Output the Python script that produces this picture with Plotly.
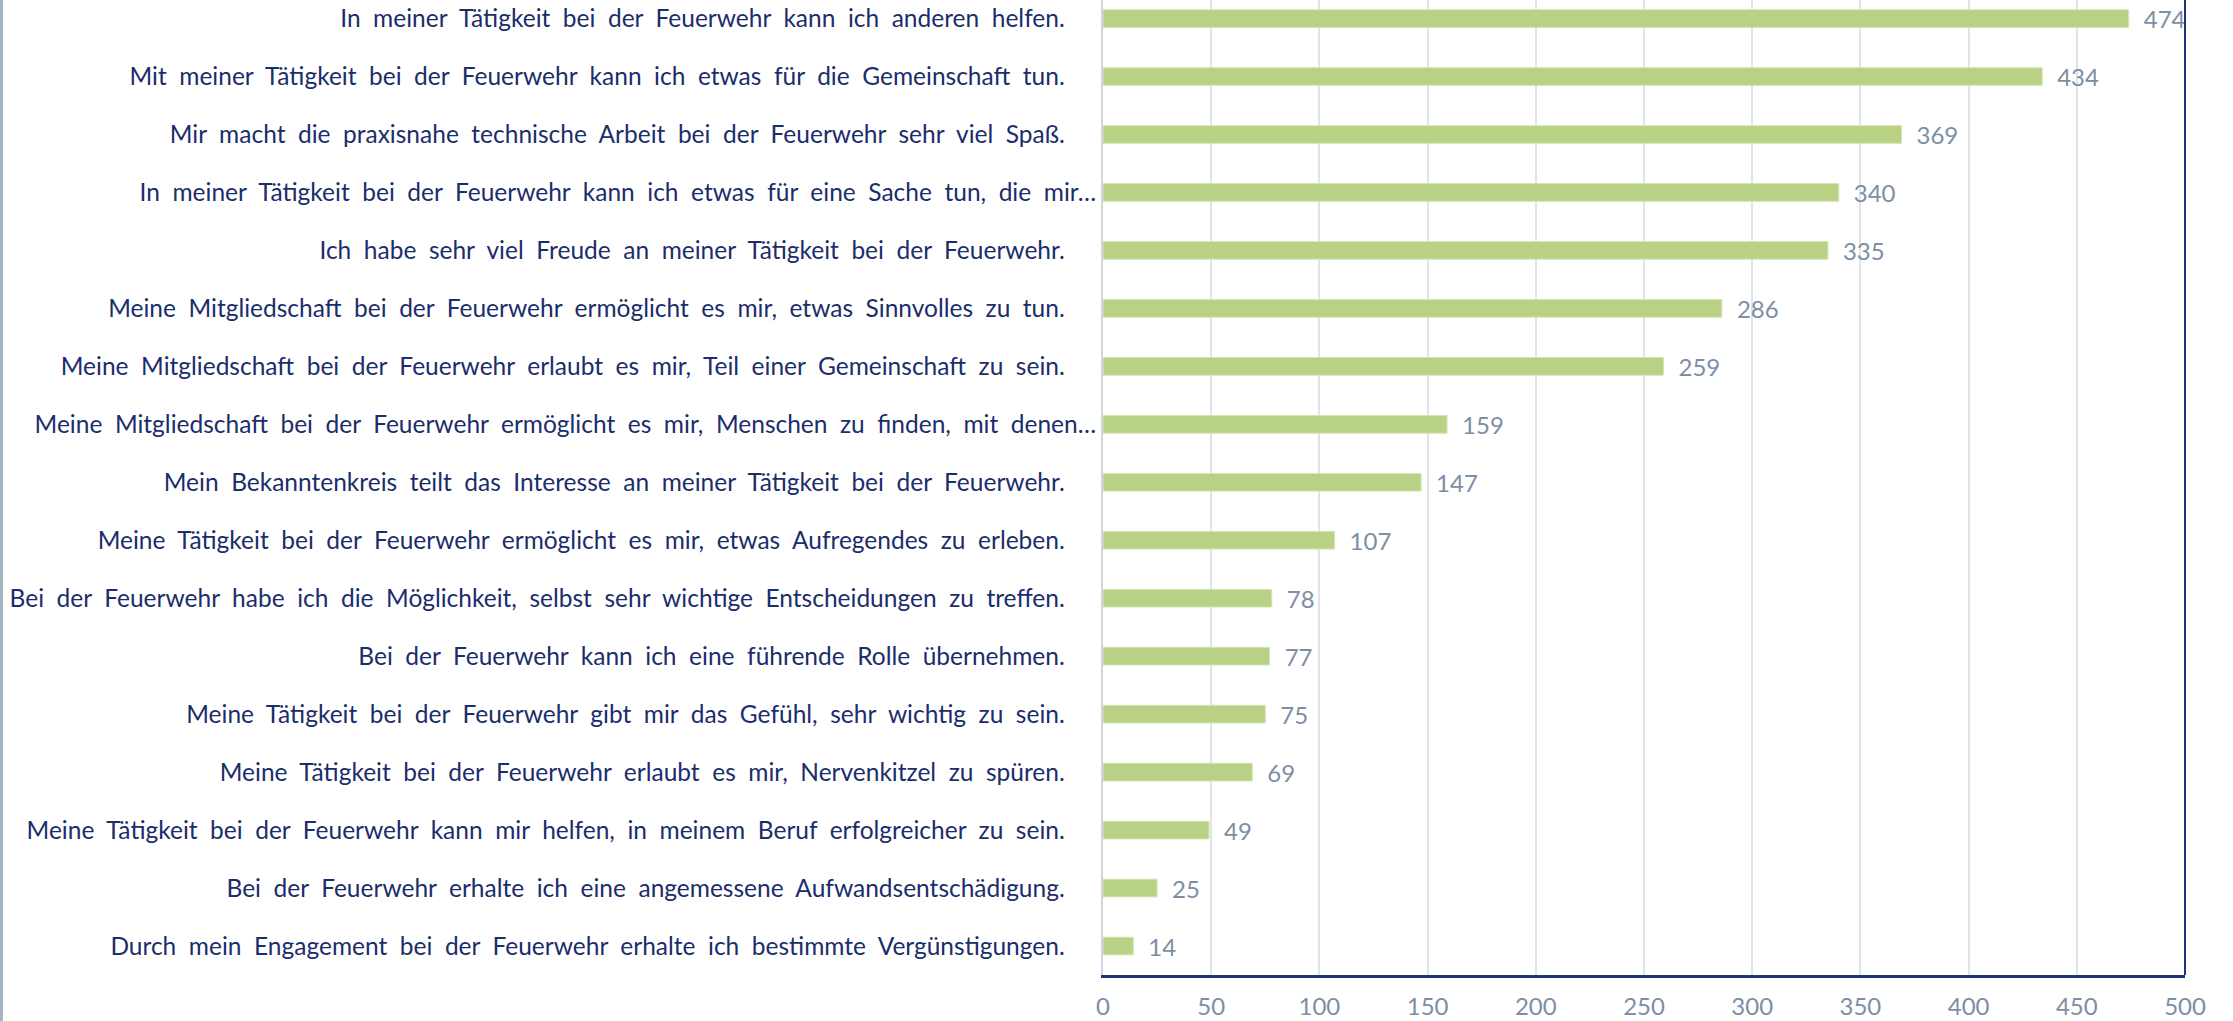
import plotly.graph_objects as go

categories = [
    "In meiner Tätigkeit bei der Feuerwehr kann ich anderen helfen.",
    "Mit meiner Tätigkeit bei der Feuerwehr kann ich etwas für die Gemeinschaft tun.",
    "Mir macht die praxisnahe technische Arbeit bei der Feuerwehr sehr viel Spaß.",
    "In meiner Tätigkeit bei der Feuerwehr kann ich etwas für eine Sache tun, die mir…",
    "Ich habe sehr viel Freude an meiner Tätigkeit bei der Feuerwehr.",
    "Meine Mitgliedschaft bei der Feuerwehr ermöglicht es mir, etwas Sinnvolles zu tun.",
    "Meine Mitgliedschaft bei der Feuerwehr erlaubt es mir, Teil einer Gemeinschaft zu sein.",
    "Meine Mitgliedschaft bei der Feuerwehr ermöglicht es mir, Menschen zu finden, mit denen…",
    "Mein Bekanntenkreis teilt das Interesse an meiner Tätigkeit bei der Feuerwehr.",
    "Meine Tätigkeit bei der Feuerwehr ermöglicht es mir, etwas Aufregendes zu erleben.",
    "Bei der Feuerwehr habe ich die Möglichkeit, selbst sehr wichtige Entscheidungen zu treffen.",
    "Bei der Feuerwehr kann ich eine führende Rolle übernehmen.",
    "Meine Tätigkeit bei der Feuerwehr gibt mir das Gefühl, sehr wichtig zu sein.",
    "Meine Tätigkeit bei der Feuerwehr erlaubt es mir, Nervenkitzel zu spüren.",
    "Meine Tätigkeit bei der Feuerwehr kann mir helfen, in meinem Beruf erfolgreicher zu sein.",
    "Bei der Feuerwehr erhalte ich eine angemessene Aufwandsentschädigung.",
    "Durch mein Engagement bei der Feuerwehr erhalte ich bestimmte Vergünstigungen.",
]
values = [474, 434, 369, 340, 335, 286, 259, 159, 147, 107, 78, 77, 75, 69, 49, 25, 14]
x_ticks = [0, 50, 100, 150, 200, 250, 300, 350, 400, 450, 500]

# display labels: widen word spacing, add trailing gap for non-truncated ones
def disp(c):
    s = c.replace(" ", "\u00a0 ")
    if not c.endswith("…"):
        s = s + "\u00a0" * 5
    return s

labels = [disp(c) for c in categories]

NAVY = "#1b2d6b"
GRAYTXT = "#7d8ea5"

W, H = 2233, 1021
PL, PR = 1103, 2185   # plot area left/right
PB = 975              # plot bottom

fig = go.Figure(go.Bar(
    x=values,
    y=labels,
    orientation="h",
    width=0.305,
    marker=dict(color="#b9d185", line=dict(color="#d6e5b5", width=1)),
    text=[f"\u2002{v}" for v in values],
    textposition="outside",
    constraintext="none",
    textfont=dict(family="Lato", size=24, color=GRAYTXT),
    cliponaxis=False,
    hoverinfo="x+y",
))

fig.update_layout(
    width=W, height=H,
    margin=dict(l=PL, r=W - PR, t=0, b=H - PB, autoexpand=False),
    paper_bgcolor="white", plot_bgcolor="white",
    showlegend=False,
    font=dict(family="Lato"),
    xaxis=dict(
        range=[0, 500], tickvals=x_ticks, ticktext=[str(t) for t in x_ticks],
        showgrid=True, gridcolor="#dfe4eb", gridwidth=2,
        showline=True, linecolor="#1f357a", linewidth=3,
        ticks="", ticklabelstandoff=8,
        tickfont=dict(family="Lato", size=24, color=GRAYTXT),
        zeroline=False,
    ),
    yaxis=dict(
        categoryorder="array", categoryarray=labels[::-1],
        range=[-0.5, 16.32],
        showline=True, linecolor="#cfd6e0", linewidth=2,
        ticks="", ticklabelstandoff=0,
        tickfont=dict(family="Lato", size=24.5, color=NAVY),
        showgrid=False,
    ),
    shapes=[
        dict(type="line", xref="paper", yref="paper", x0=1, x1=1, y0=0, y1=1.02,
             line=dict(color="#1f357a", width=2)),
        dict(type="line", xref="paper", yref="paper",
             x0=-(PL - 1.5) / (PR - PL), x1=-(PL - 1.5) / (PR - PL),
             y0=-(H - PB) / PB - 0.01, y1=1.02,
             line=dict(color="#a6b3c2", width=3)),
    ],
)

fig.write_html("out.html",
               config={"displayModeBar": False},
               post_script="document.body.style.margin='0';document.body.style.overflow='hidden';")
